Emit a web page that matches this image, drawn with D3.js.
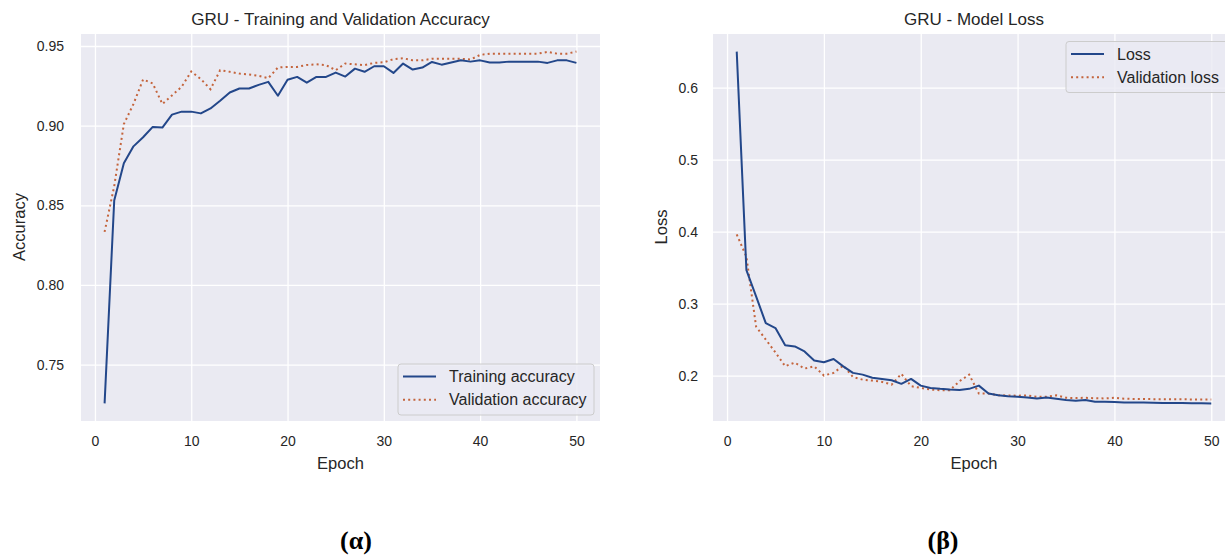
<!DOCTYPE html>
<html>
<head>
<meta charset="utf-8">
<script src="https://cdn.jsdelivr.net/npm/d3@7"></script>
<style>
  body { margin: 0; background: #ffffff; }
  svg { display: block; }
  text { font-family: "Liberation Sans", Arial, sans-serif; fill: #262626; }
  text.caption { font-family: "Liberation Serif", "Times New Roman", serif; font-weight: bold; fill: #000000; }
</style>
</head>
<body>
<svg width="1225" height="558"></svg>
<script>
// epochs
var epochs = [1, 2, 3, 4, 5, 6, 7, 8, 9, 10, 11, 12, 13, 14, 15, 16, 17, 18, 19, 20,
    21, 22, 23, 24, 25, 26, 27, 28, 29, 30, 31, 32, 33, 34, 35, 36, 37, 38, 39, 40,
    41, 42, 43, 44, 45, 46, 47, 48, 49, 50];

var trainAcc = [0.7256, 0.853, 0.8764, 0.887, 0.8927, 0.8992, 0.8988, 0.9069, 0.9088, 0.9088,
    0.9077, 0.9108, 0.9156, 0.9208, 0.9233, 0.9233, 0.9256, 0.9275, 0.9188, 0.9288,
    0.9306, 0.927, 0.9306, 0.9306, 0.9333, 0.9308, 0.9358, 0.9338, 0.9373, 0.9373,
    0.9331, 0.939, 0.9352, 0.9365, 0.94, 0.9383, 0.9397, 0.941, 0.9402, 0.941,
    0.9396, 0.9396, 0.9402, 0.9402, 0.9402, 0.9402, 0.9394, 0.941, 0.941, 0.9394];

var valAcc = [0.8333, 0.862, 0.901, 0.9136, 0.929, 0.9265, 0.9136, 0.919, 0.9244, 0.934,
    0.9292, 0.9229, 0.9348, 0.9338, 0.9327, 0.9321, 0.9313, 0.9298, 0.9365, 0.9369,
    0.9369, 0.9381, 0.9385, 0.938, 0.9348, 0.939, 0.9385, 0.938, 0.9394, 0.9398,
    0.9417, 0.9423, 0.941, 0.941, 0.942, 0.942, 0.942, 0.942, 0.9415, 0.9444,
    0.9452, 0.9452, 0.9452, 0.9452, 0.9452, 0.9452, 0.9463, 0.9452, 0.9452, 0.9465];

var loss = [0.65, 0.3465, 0.31, 0.2727, 0.266, 0.242, 0.2404, 0.2335, 0.221, 0.2184,
    0.223, 0.2128, 0.2037, 0.2013, 0.197, 0.1953, 0.1935, 0.1885, 0.1953, 0.186,
    0.1828, 0.1815, 0.1806, 0.18, 0.1815, 0.186, 0.175, 0.1726, 0.1714, 0.1705,
    0.1696, 0.168, 0.1696, 0.1678, 0.1659, 0.165, 0.1659, 0.1636, 0.1636, 0.1632,
    0.1627, 0.1627, 0.1625, 0.1622, 0.162, 0.1618, 0.1617, 0.1615, 0.1614, 0.1613];

var valLoss = [0.396, 0.365, 0.268, 0.25, 0.232, 0.213, 0.218, 0.2097, 0.2128, 0.2,
    0.2037, 0.2138, 0.198, 0.1943, 0.193, 0.1912, 0.1875, 0.2023, 0.1852, 0.1828,
    0.1806, 0.1795, 0.1795, 0.1921, 0.2013, 0.175, 0.175, 0.1726, 0.1724, 0.172,
    0.1724, 0.1705, 0.1705, 0.1726, 0.1691, 0.1688, 0.1691, 0.1685, 0.1682, 0.1691,
    0.1678, 0.1675, 0.1675, 0.1672, 0.1672, 0.167, 0.167, 0.1668, 0.1668, 0.1668];

// tick labels
var xTicks = [0, 10, 20, 30, 40, 50];
var accTicks = [0.75, 0.80, 0.85, 0.90, 0.95];
var lossTicks = [0.2, 0.3, 0.4, 0.5, 0.6];

var blue = "#23478a";
var orange = "#c4643c";

var svg = d3.select("svg");

// add 5% margin like matplotlib does
function padded(arr) {
    var ext = d3.extent(arr);
    var m = (ext[1] - ext[0]) * 0.05;
    return [ext[0] - m, ext[1] + m];
}

function panel(p) {
    var g = svg.append("g");
    var w = p.right - p.left;

    var x = d3.scaleLinear().domain(padded(epochs)).range([p.left, p.right]);
    var y = d3.scaleLinear().domain(padded(p.a.concat(p.b))).range([421, 34]);

    g.append("rect")
        .attr("x", p.left).attr("y", 34)
        .attr("width", w).attr("height", 387)
        .attr("fill", "#eaeaf2");

    var xAxis = d3.axisBottom(x).tickValues(xTicks).tickSize(-387).tickPadding(15)
        .tickFormat(d3.format("d"));
    var yAxis = d3.axisLeft(y).tickValues(p.ticks).tickSize(-w).tickPadding(p.pad)
        .tickFormat(d3.format(p.fmt));

    g.append("g").attr("transform", "translate(0,421)").call(xAxis);
    g.append("g").attr("transform", "translate(" + p.left + ",0)").call(yAxis);

    g.selectAll(".domain").remove();
    g.selectAll(".tick line").attr("stroke", "#ffffff").attr("stroke-width", 1.3);
    g.selectAll(".tick text").attr("font-size", 14);

    var line = function (vals) {
        return d3.line()
            .x(function (d, i) { return x(epochs[i]); })
            .y(function (d) { return y(d); })(vals);
    };

    g.append("path").attr("d", line(p.b))
        .attr("fill", "none").attr("stroke", orange)
        .attr("stroke-width", 2).attr("stroke-dasharray", "2,3.2");
    g.append("path").attr("d", line(p.a))
        .attr("fill", "none").attr("stroke", blue)
        .attr("stroke-width", 2).attr("stroke-linejoin", "round");

    // title and labels
    var cx = (p.left + p.right) / 2;
    g.append("text").attr("x", cx).attr("y", 25).attr("text-anchor", "middle")
        .attr("font-size", 17).text(p.title);
    g.append("text").attr("x", cx).attr("y", 469).attr("text-anchor", "middle")
        .attr("font-size", 16.5).text("Epoch");
    g.append("text")
        .attr("transform", "translate(" + p.ylabX + ",227)rotate(-90)")
        .attr("text-anchor", "middle").attr("font-size", 16.5).text(p.ylab);

    // legend
    var L = p.legend;
    g.append("rect").attr("x", L.x).attr("y", L.y).attr("width", L.w).attr("height", 51)
        .attr("rx", 3).attr("fill", "#eaeaf2").attr("fill-opacity", 0.8)
        .attr("stroke", "#cccccc").attr("stroke-width", 1);
    [p.names[0], p.names[1]].forEach(function (name, i) {
        var ly = L.y + 12.5 + i * 23.3;
        g.append("line").attr("x1", L.x + 5).attr("x2", L.x + 38)
            .attr("y1", ly).attr("y2", ly)
            .attr("stroke", i == 0 ? blue : orange).attr("stroke-width", 2)
            .attr("stroke-dasharray", i == 0 ? null : "2,3.2");
        g.append("text").attr("x", L.x + 51).attr("y", ly + 5.5)
            .attr("font-size", 16).text(name);
    });

    svg.append("text").attr("class", "caption")
        .attr("x", p.capX).attr("y", 549).attr("text-anchor", "middle")
        .attr("font-size", 26)
        .text(p.caption);
}

panel({
    left: 81, right: 600, a: trainAcc, b: valAcc, ticks: accTicks, fmt: ".2f", pad: 17,
    title: "GRU - Training and Validation Accuracy", ylab: "Accuracy", ylabX: 25,
    names: ["Training accuracy", "Validation accuracy"],
    legend: { x: 398, y: 364, w: 196 }, caption: "(α)", capX: 356
});

panel({
    left: 713, right: 1235, a: loss, b: valLoss, ticks: lossTicks, fmt: ".1f", pad: 15,
    title: "GRU - Model Loss", ylab: "Loss", ylabX: 667,
    names: ["Loss", "Validation loss"],
    legend: { x: 1066, y: 41.5, w: 165 }, caption: "(β)", capX: 943
});
</script>
</body>
</html>
